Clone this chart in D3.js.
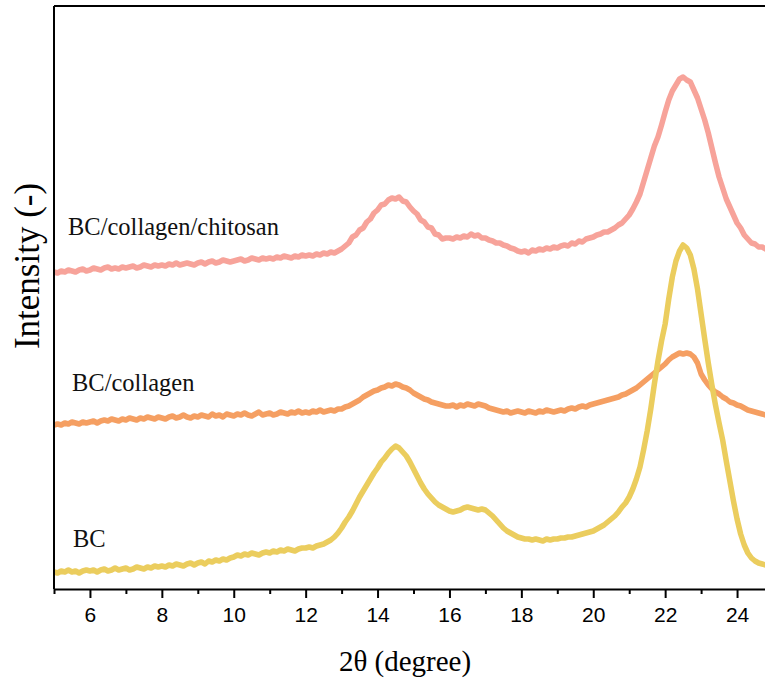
<!DOCTYPE html>
<html>
<head>
<meta charset="utf-8">
<script src="https://cdn.jsdelivr.net/npm/d3@7"></script>
<style>
  body { margin: 0; background: #fff; }
</style>
</head>
<body>
<div id="chart"></div>
<script>
// 2theta grid: 5.0 .. 25.0 step 0.1 (one row = one degree)
var thetaStart = 5, thetaStep = 0.1;

var chitosan = [
  317,316,318,317,319,318,317,319,320,318,
  319,321,320,319,321,322,320,321,320,322,
  321,322,323,321,322,324,323,322,324,323,
  324,323,325,324,326,324,325,326,325,324,
  326,327,325,327,328,326,327,329,328,327,
  328,329,330,328,329,331,330,329,331,330,
  331,330,332,331,333,332,331,333,332,334,
  333,334,333,335,334,336,335,337,336,338,
  340,343,346,352,354,359,361,367,370,376,
  379,384,385,389,391,390,392,388,387,382,
  378,375,369,367,362,361,355,354,350,351,
  351,350,352,351,353,352,355,353,354,351,
  351,349,348,346,346,344,343,341,340,338,
  337,338,336,339,338,340,339,341,340,342,
  341,343,344,343,346,345,348,347,350,351,
  352,354,355,357,357,359,361,364,366,370,
  374,380,387,395,407,419,431,443,452,464,
  477,489,498,504,510,512,509,507,499,491,
  480,469,456,441,426,412,401,390,382,374,
  366,361,354,350,346,345,342,342,340,340,
  339
];

var collagen = [
  164,165,164,166,165,167,166,165,167,166,
  167,168,166,168,169,168,170,169,168,170,
  169,171,170,169,171,170,172,171,170,172,
  171,170,172,173,171,172,174,172,171,173,
  172,174,173,172,175,173,174,172,175,174,
  173,175,174,176,174,173,175,177,174,175,
  176,174,175,177,176,175,177,176,178,176,
  177,176,178,177,179,177,178,179,178,180,
  180,182,183,185,187,189,192,194,196,198,
  199,201,202,204,203,205,204,202,201,199,
  196,194,192,190,189,187,186,185,184,183,
  183,184,182,184,183,185,184,183,185,184,
  183,181,180,179,178,177,178,176,177,178,
  177,176,178,177,176,178,177,179,178,177,
  178,179,178,180,181,180,182,183,182,184,
  185,186,187,188,189,190,191,192,194,195,
  197,199,201,204,207,210,213,216,219,222,
  225,229,232,234,236,235,236,235,232,226,
  215,209,204,200,197,195,192,190,187,186,
  184,183,181,179,178,177,176,175,174,174,
  173
];

var bc = [
  17,16,18,17,19,17,18,16,18,19,
  18,19,17,19,20,18,19,21,19,20,
  21,19,20,22,21,20,22,21,23,22,
  23,22,24,23,25,24,23,25,26,24,
  26,27,25,28,27,29,28,30,29,31,
  32,34,33,35,34,36,35,34,36,37,
  36,38,37,39,38,40,39,38,40,41,
  41,42,41,43,44,45,47,49,52,56,
  61,67,72,78,85,92,98,104,110,116,
  121,127,131,136,140,143,141,137,133,127,
  120,113,106,100,95,91,87,84,82,80,
  78,77,78,79,81,82,81,80,79,80,
  79,76,73,69,65,61,58,56,54,52,
  51,50,50,49,50,49,48,50,49,50,
  50,51,51,52,52,53,54,55,56,57,
  58,60,62,64,67,70,73,77,82,86,
  92,100,110,122,139,158,180,205,228,248,
  265,290,312,328,338,344,341,334,320,300,
  275,250,226,204,184,166,149,128,108,88,
  70,55,44,36,31,28,26,25,24,23,
  22
];

var seriesNames = ["BC/collagen/chitosan", "BC/collagen", "BC"];
var seriesColors = ["#f7a39a", "#f59f62", "#ebcd5e"];
var xMajorTicks = [6, 8, 10, 12, 14, 16, 18, 20, 22, 24];
var xMinorTicks = [5, 7, 9, 11, 13, 15, 17, 19, 21, 23, 25];

var width = 765, height = 683;
var margin = {top: 6, left: 54, bottom: 94};
var plotW = 719, plotH = height - margin.top - margin.bottom;

var svg = d3.select("#chart")
  .append("svg")
    .attr("width", width)
    .attr("height", height);

var x = d3.scaleLinear()
  .domain([5, 25])
  .range([margin.left, margin.left + plotW]);

var y = d3.scaleLinear()
  .domain([0, plotH])
  .range([margin.top + plotH, margin.top]);

var line = d3.line()
  .x(function(d, i) { return x(thetaStart + i * thetaStep); })
  .y(function(d) { return y(d); });

var allSeries = [chitosan, collagen, bc];

svg.selectAll(".curve")
  .data(allSeries)
  .enter()
  .append("path")
    .attr("class", "curve")
    .attr("d", line)
    .attr("fill", "none")
    .attr("stroke", function(d, i) { return seriesColors[i]; })
    .attr("stroke-width", 5.5)
    .attr("stroke-linejoin", "round");

// frame
svg.append("line")
  .attr("x1", x(5)).attr("x2", x(25))
  .attr("y1", margin.top).attr("y2", margin.top)
  .attr("stroke", "#000").attr("stroke-width", 2);
svg.append("line")
  .attr("x1", x(5)).attr("x2", x(5))
  .attr("y1", margin.top).attr("y2", margin.top + plotH)
  .attr("stroke", "#000").attr("stroke-width", 2);

var xAxis = svg.append("g")
  .attr("transform", "translate(0," + (margin.top + plotH) + ")")
  .call(d3.axisBottom(x).tickValues(xMajorTicks).tickSize(9).tickSizeOuter(0).tickPadding(9));
xAxis.select(".domain").attr("stroke-width", 2);
xAxis.selectAll(".tick line").attr("stroke-width", 2);
xAxis.selectAll("text")
  .style("font-family", "'Liberation Sans', Arial, sans-serif")
  .style("font-size", "21px")
  .attr("fill", "#000");

var xMinor = svg.append("g")
  .attr("transform", "translate(0," + (margin.top + plotH) + ")")
  .call(d3.axisBottom(x).tickValues(xMinorTicks).tickSize(5).tickSizeOuter(0).tickFormat(""));
xMinor.select(".domain").remove();
xMinor.selectAll(".tick line").attr("stroke-width", 2);

// series labels
var labelPos = [[68, 235], [72, 391], [73, 547]];
svg.selectAll(".slabel")
  .data(seriesNames)
  .enter()
  .append("text")
    .attr("class", "slabel")
    .attr("x", function(d, i) { return labelPos[i][0]; })
    .attr("y", function(d, i) { return labelPos[i][1]; })
    .style("font-family", "'Liberation Serif', 'Times New Roman', serif")
    .style("font-size", "24.5px")
    .attr("fill", "#111")
    .text(function(d) { return d; });

// axis titles
svg.append("text")
  .attr("x", 405)
  .attr("y", 671)
  .attr("text-anchor", "middle")
  .style("font-family", "'Liberation Serif', 'Times New Roman', serif")
  .style("font-size", "29px")
  .text("2θ (degree)");

svg.append("text")
  .attr("transform", "translate(39,266) rotate(-90)")
  .attr("text-anchor", "middle")
  .style("font-family", "'Liberation Serif', 'Times New Roman', serif")
  .style("font-size", "35px")
  .text("Intensity (-)");
</script>
</body>
</html>
